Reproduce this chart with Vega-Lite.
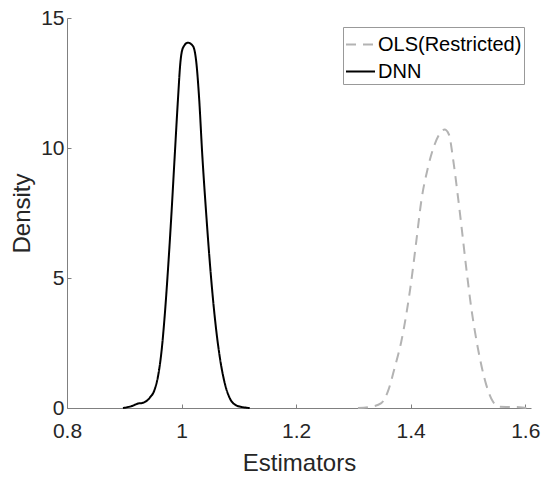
{
  "$schema": "https://vega.github.io/schema/vega-lite/v6.json",
  "autosize": "none",
  "width": 464,
  "height": 390,
  "padding": {"left": 67, "top": 18, "right": 13, "bottom": 73},
  "background": "white",
  "config": {
    "view": {"stroke": null},
    "font": "Liberation Sans",
    "axis": {
      "grid": false,
      "domainColor": "#808080",
      "domainWidth": 1,
      "tickColor": "#808080",
      "tickSize": -4,
      "tickWidth": 1,
      "labelFont": "Liberation Sans",
      "labelFontSize": 21,
      "labelColor": "#262626",
      "titleFont": "Liberation Sans",
      "titleFontSize": 24,
      "titleFontWeight": "normal",
      "titleColor": "#262626"
    }
  },
  "data": {
    "values": [
      {"series": "DNN", "x": 0.8977, "y": 0},
      {"series": "DNN", "x": 0.9124, "y": 0.07},
      {"series": "DNN", "x": 0.924, "y": 0.17},
      {"series": "DNN", "x": 0.9327, "y": 0.2},
      {"series": "DNN", "x": 0.9443, "y": 0.39},
      {"series": "DNN", "x": 0.953, "y": 0.71},
      {"series": "DNN", "x": 0.9589, "y": 1.22},
      {"series": "DNN", "x": 0.9647, "y": 2.12},
      {"series": "DNN", "x": 0.9705, "y": 3.53},
      {"series": "DNN", "x": 0.9763, "y": 5.33},
      {"series": "DNN", "x": 0.9821, "y": 7.38},
      {"series": "DNN", "x": 0.988, "y": 9.68},
      {"series": "DNN", "x": 0.9937, "y": 11.87},
      {"series": "DNN", "x": 0.9979, "y": 13.28},
      {"series": "DNN", "x": 1.0024, "y": 13.85},
      {"series": "DNN", "x": 1.0112, "y": 14.05},
      {"series": "DNN", "x": 1.0199, "y": 13.92},
      {"series": "DNN", "x": 1.0258, "y": 13.28},
      {"series": "DNN", "x": 1.0304, "y": 12.0},
      {"series": "DNN", "x": 1.0363, "y": 9.68},
      {"series": "DNN", "x": 1.0433, "y": 7.38},
      {"series": "DNN", "x": 1.0503, "y": 5.33},
      {"series": "DNN", "x": 1.0578, "y": 3.53},
      {"series": "DNN", "x": 1.0665, "y": 1.99},
      {"series": "DNN", "x": 1.0752, "y": 0.97},
      {"series": "DNN", "x": 1.0839, "y": 0.39},
      {"series": "DNN", "x": 1.0956, "y": 0.1},
      {"series": "DNN", "x": 1.1072, "y": 0.03},
      {"series": "DNN", "x": 1.1189, "y": 0},
      {"series": "OLS(Restricted)", "x": 1.3079, "y": 0},
      {"series": "OLS(Restricted)", "x": 1.3283, "y": 0.04},
      {"series": "OLS(Restricted)", "x": 1.3487, "y": 0.19},
      {"series": "OLS(Restricted)", "x": 1.3602, "y": 0.64},
      {"series": "OLS(Restricted)", "x": 1.3719, "y": 1.54},
      {"series": "OLS(Restricted)", "x": 1.3836, "y": 2.56},
      {"series": "OLS(Restricted)", "x": 1.3923, "y": 3.6},
      {"series": "OLS(Restricted)", "x": 1.401, "y": 4.88},
      {"series": "OLS(Restricted)", "x": 1.4098, "y": 6.42},
      {"series": "OLS(Restricted)", "x": 1.4185, "y": 7.96},
      {"series": "OLS(Restricted)", "x": 1.43, "y": 9.24},
      {"series": "OLS(Restricted)", "x": 1.4417, "y": 10.13},
      {"series": "OLS(Restricted)", "x": 1.4516, "y": 10.58},
      {"series": "OLS(Restricted)", "x": 1.4592, "y": 10.71},
      {"series": "OLS(Restricted)", "x": 1.4667, "y": 10.52},
      {"series": "OLS(Restricted)", "x": 1.4737, "y": 9.62},
      {"series": "OLS(Restricted)", "x": 1.4806, "y": 8.46},
      {"series": "OLS(Restricted)", "x": 1.4883, "y": 7.05},
      {"series": "OLS(Restricted)", "x": 1.497, "y": 5.38},
      {"series": "OLS(Restricted)", "x": 1.5058, "y": 3.84},
      {"series": "OLS(Restricted)", "x": 1.5173, "y": 2.3},
      {"series": "OLS(Restricted)", "x": 1.5319, "y": 0.89},
      {"series": "OLS(Restricted)", "x": 1.5435, "y": 0.25},
      {"series": "OLS(Restricted)", "x": 1.5552, "y": 0.05},
      {"series": "OLS(Restricted)", "x": 1.5726, "y": 0.04},
      {"series": "OLS(Restricted)", "x": 1.59, "y": 0.03},
      {"series": "OLS(Restricted)", "x": 1.6017, "y": 0}
    ]
  },
  "mark": {"type": "line", "strokeWidth": 2, "interpolate": "monotone"},
  "encoding": {
    "x": {
      "field": "x",
      "type": "quantitative",
      "title": "Estimators",
      "scale": {"domain": [0.8, 1.61], "nice": false, "zero": false},
      "axis": {"values": [0.8, 1, 1.2, 1.4, 1.6], "format": "~g", "labelPadding": 16, "titlePadding": 10, "labelFlush": false}
    },
    "y": {
      "field": "y",
      "type": "quantitative",
      "title": "Density",
      "scale": {"domain": [0, 15], "nice": false},
      "axis": {"values": [0, 5, 10, 15], "labelPadding": 7, "titlePadding": 6, "labelFlush": false}
    },
    "color": {
      "field": "series",
      "type": "nominal",
      "title": null,
      "scale": {"domain": ["OLS(Restricted)", "DNN"], "range": ["#b3b3b3", "#000000"]},
      "legend": {
        "orient": "none",
        "legendX": 276,
        "legendY": 9,
        "symbolType": "stroke",
        "symbolSize": 841,
        "symbolStrokeWidth": 2,
        "labelFontSize": 20,
        "labelFont": "Liberation Sans",
        "labelColor": "#000000",
        "labelOffset": 2,
        "rowPadding": 1,
        "padding": 2,
        "strokeColor": "#999999",
        "fillColor": "white"
      }
    },
    "strokeDash": {
      "field": "series",
      "type": "nominal",
      "title": null,
      "scale": {"domain": ["OLS(Restricted)", "DNN"], "range": [[10, 7], [1, 0]]}
    }
  }
}
